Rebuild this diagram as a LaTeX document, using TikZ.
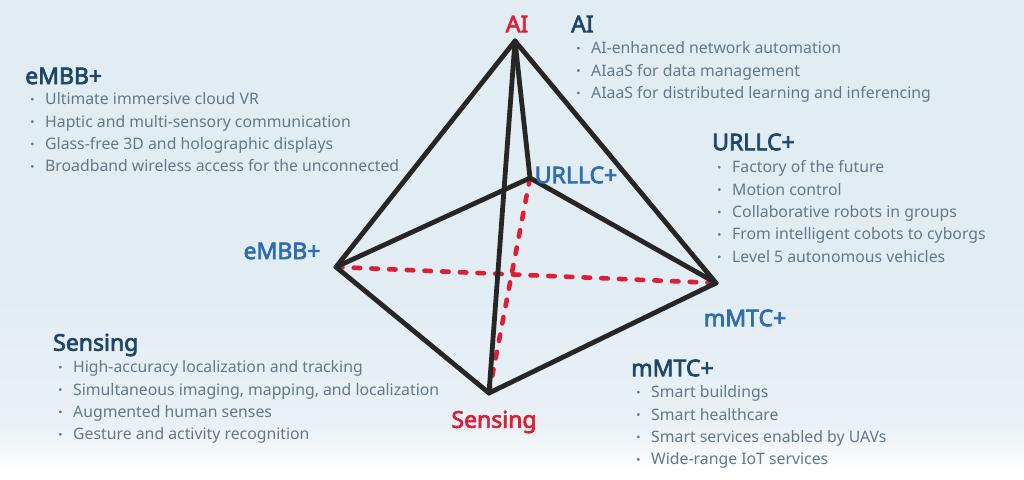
\documentclass[tikz,border=0pt]{standalone}
\usepackage{fontspec}
\setmainfont{Noto Sans}
\newfontfamily\headfont[FakeBold=3]{Noto Sans}
\usepackage{tikz}
\definecolor{bgblue}{RGB}{226,237,243}
\definecolor{bgpale}{RGB}{233,241,246}
\definecolor{headblue}{RGB}{30,70,102}
\definecolor{labelblue}{RGB}{46,110,175}
\definecolor{labelred}{RGB}{220,30,55}
\definecolor{bodygrey}{RGB}{100,120,135}
\definecolor{edgeblack}{RGB}{38,38,38}
\newcommand{\bitem}[1]{\makebox[15pt][l]{\headfont ·}#1\\}
\begin{document}
\begin{tikzpicture}[
    x=1pt, y=-1pt,
    edge/.style={draw=edgeblack, line width=4.8pt, line cap=round, line join=round},
    hidden/.style={draw=labelred, line width=4.6pt, line cap=round, dash pattern=on 6.5pt off 11.2pt},
    heading/.style={anchor=west, inner sep=0pt, text=headblue, font=\headfont\fontsize{23}{24}\selectfont},
    vertexlabel/.style={inner sep=0pt, font=\headfont\fontsize{23}{24}\selectfont},
    itemlist/.style={anchor=north west, inner sep=0pt, align=left, text=bodygrey, font=\fontsize{15.8}{22.4}\selectfont}
]
    % Background
    \fill[bgblue] (0,0) rectangle (1024,300);
    \shade[top color=bgblue, bottom color=bgpale] (0,300) rectangle (1024,425);
    \shade[top color=bgpale, bottom color=white] (0,425) rectangle (1024,475);
    \useasboundingbox (0,0) rectangle (1024,479);

    % Corners
    \coordinate (ai) at (515,41);
    \coordinate (embb) at (336,267);
    \coordinate (urllc) at (530,178);
    \coordinate (mmtc) at (716,283);
    \coordinate (sensing) at (489,393);

    % Hidden edges
    \draw[hidden] (urllc) -- (sensing);
    \draw[hidden] (embb) -- (mmtc);

    % Visible edges
    \draw[edge] (ai) -- (embb);
    \draw[edge] (ai) -- (urllc);
    \draw[edge] (ai) -- (mmtc);
    \draw[edge] (ai) -- (sensing);
    \draw[edge] (embb) -- (urllc);
    \draw[edge] (urllc) -- (mmtc);
    \draw[edge] (embb) -- (sensing);
    \draw[edge] (sensing) -- (mmtc);

    % Corner labels
    \node[vertexlabel, text=labelred] (ailabel) at (517,24) {AI};
    \node[vertexlabel, text=labelblue] (embblabel) at (282,251) {eMBB+};
    \node[vertexlabel, text=labelblue] (urllclabel) at (576,175) {URLLC+};
    \node[vertexlabel, text=labelblue] (mmtclabel) at (745,318) {mMTC+};
    \node[vertexlabel, text=labelred] (sensinglabel) at (494,422) {Sensing};

    % AI
    \node[heading] (aihead) at (571,24) {AI};
    \node[itemlist] (ailist) at (576,41.5) {%
        \bitem{AI-enhanced network automation}
        \bitem{AIaaS for data management}
        \bitem{AIaaS for distributed learning and inferencing}};

    % eMBB+
    \node[heading] (embbhead) at (25,76) {eMBB+};
    \node[itemlist] (embblist) at (30,92.5) {%
        \bitem{Ultimate immersive cloud VR}
        \bitem{Haptic and multi-sensory communication}
        \bitem{Glass-free 3D and holographic displays}
        \bitem{Broadband wireless access for the unconnected}};

    % URLLC+
    \node[heading] (urllchead) at (712,142) {URLLC+};
    \node[itemlist] (urllclist) at (717,160.5) {%
        \bitem{Factory of the future}
        \bitem{Motion control}
        \bitem{Collaborative robots in groups}
        \bitem{From intelligent cobots to cyborgs}
        \bitem{Level 5 autonomous vehicles}};

    % Sensing
    \node[heading] (sensinghead) at (53,345) {Sensing};
    \node[itemlist] (sensinglist) at (58,360.5) {%
        \bitem{High-accuracy localization and tracking}
        \bitem{Simultaneous imaging, mapping, and localization}
        \bitem{Augmented human senses}
        \bitem{Gesture and activity recognition}};

    % mMTC+
    \node[heading] (mmtchead) at (631,368) {mMTC+};
    \node[itemlist] (mmtclist) at (636,385.5) {%
        \bitem{Smart buildings}
        \bitem{Smart healthcare}
        \bitem{Smart services enabled by UAVs}
        \bitem{Wide-range IoT services}};
\end{tikzpicture}
\end{document}
